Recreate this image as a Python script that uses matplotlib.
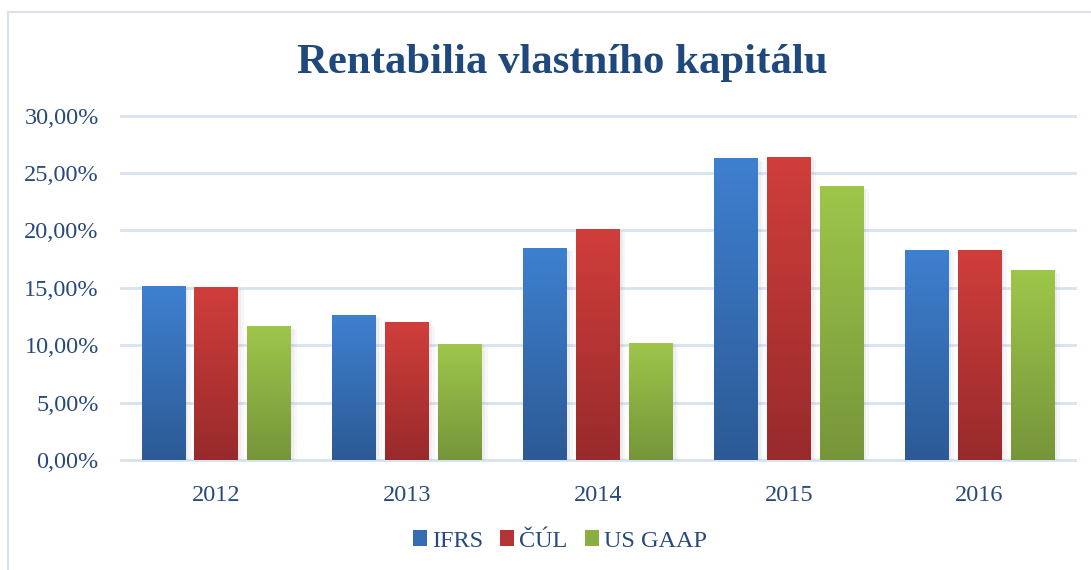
import numpy as np
import matplotlib
matplotlib.use("Agg")
import matplotlib.pyplot as plt
import matplotlib.colors as mc
from matplotlib.patches import Rectangle, Patch
import matplotlib.patheffects as pe

years = ["2012", "2013", "2014", "2015", "2016"]
ifrs = [15.15, 12.6, 18.45, 26.3, 18.3]
cul = [15.05, 12.0, 20.1, 26.4, 18.3]
us_gaap = [11.65, 10.1, 10.2, 23.85, 16.55]
series_names = ["IFRS", "ČÚL", "US GAAP"]
yticks = [0, 5, 10, 15, 20, 25, 30]

# top (light) / bottom (dark) colours of each series' gradient
grad = [("#3e80d0", "#2c5a95"), ("#d03e3b", "#982a2b"), ("#9ec64a", "#76953a")]
txt_col = "#27497c"

plt.rcParams['font.family'] = ['Liberation Serif', 'DejaVu Serif']

fig = plt.figure(figsize=(10.91, 5.70), dpi=100)
W, H = 1091, 570
ax = fig.add_axes([121 / W, 1 - 460 / H, (1075 - 121) / W, (460 - 115.7) / H])

# chart frame
fig.patches.append(Rectangle((8 / W, -0.1), 1.2, 1 - 12 / H + 0.1, transform=fig.transFigure,
                             facecolor="none", edgecolor="#d9e1ee", linewidth=1.5, zorder=0))

x = np.arange(len(years))
width = 0.23
step = 0.277
data = [ifrs, cul, us_gaap]
for i, vals in enumerate(data):
    top, bot = grad[i]
    cmap = mc.LinearSegmentedColormap.from_list("g%d" % i, [bot, top])
    bars = ax.bar(x + (i - 1) * step, vals, width, color=bot, zorder=3)
    for b in bars:
        b.set_path_effects([pe.SimplePatchShadow(offset=(4, -2), shadow_rgbFace="#999999", alpha=0.08),
                            pe.SimplePatchShadow(offset=(2, -1), shadow_rgbFace="#999999", alpha=0.10),
                            pe.Normal()])
        x0, y0 = b.get_x(), b.get_y()
        im = ax.imshow(np.linspace(0, 1, 256).reshape(-1, 1), cmap=cmap, origin="lower",
                       extent=(x0, x0 + b.get_width(), y0, y0 + b.get_height()),
                       aspect="auto", zorder=4)
        im.set_clip_path(b)

ax.set_xlim(-0.5, len(years) - 0.5)
ax.set_ylim(0, 30)
for v in yticks:
    ax.axhline(v, color="#d6e2f1", linewidth=2, zorder=1, clip_on=False)
ax.set_yticks(yticks)
ax.set_yticklabels([("%.2f" % v).replace(".", ",") + "%" for v in yticks])
ax.set_xticks(x)
ax.set_xticklabels(years)
ax.tick_params(axis="both", length=0, labelsize=17.5, labelcolor=txt_col)
ax.tick_params(axis="y", pad=16)
ax.tick_params(axis="x", pad=18)
for s in ax.spines.values():
    s.set_visible(False)

fig.text(562 / W, 1 - 73 / H, "Rentabilia vlastního kapitálu", ha="center", va="baseline",
         fontsize=30.8, fontweight="bold", color="#1f497d")

handles = [Patch(facecolor=mc.to_hex(np.mean([mc.to_rgb(t), mc.to_rgb(b)], axis=0)))
           for t, b in grad]
fig.legend(handles, series_names, loc="center", bbox_to_anchor=(560 / W, 1 - 541 / H), ncol=3,
           frameon=False, fontsize=17.5, labelcolor=txt_col, handlelength=0.58, handleheight=0.58,
           handletextpad=0.2, columnspacing=0.7)

fig.savefig("out.png", dpi=100)
